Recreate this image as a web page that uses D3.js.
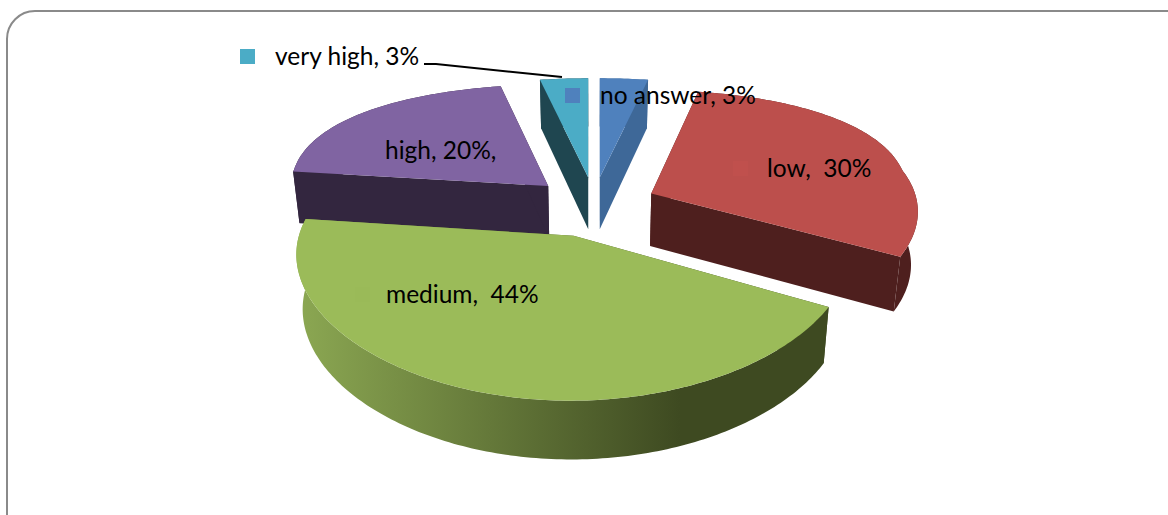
<!DOCTYPE html>
<html lang="en">
<head>
<meta charset="UTF-8">
<title>Pie chart</title>
<style>
  body { margin: 0; background: #fff; overflow: hidden; }
  text { font-family: Lato, sans-serif; font-size: 24.5px; fill: #000; white-space: pre; }
</style>
</head>
<body>
<div id="chart"></div>
<script src="https://d3js.org/d3.v7.min.js"></script>
<script>
  // chart data
  const categories = ["no answer", "low", "medium", "high", "very high"];
  const values = [3, 30, 44, 20, 3];
  const labels = ["no answer, 3%", "low,  30%", "medium,  44%", "high, 20%,", "very high, 3%"];

  // styles, same order as categories
  const topColors = ["#4f81bd", "#bc4f4c", "#9bbb59", "#8064a2", "#4bacc6"];
  const sideColors = ["#3e6898", "#4e1f1e", "url(#wall)", "#33263f", "#1f4650"];
  const markerColors = ["#4f81bd", "#c0504d", "#9aba58", "#8064a2", "#4bacc6"];
  const labelX = [600, 767, 386, 385, 275];
  const labelY = [104, 177, 303, 159, 65];
  const markerX = [572, 740, 362, 358, 247];

  const width = 1168, height = 515;
  const cx = 594, cy = 206;       // centre of the pie before the slices are pulled out
  const rx = 267, ry = 125;       // disc radii
  const perspX = 0.123, perspY = 0.172, perspZ = 0.08;
  const shrink = 0.0004;          // underside of the disc is a bit narrower
  const pull = 0.24;              // explosion, share of the radius
  const depth = 53;

  const svg = d3.select("#chart").append("svg")
    .attr("width", width).attr("height", height);

  // frame, runs off the page at right and bottom
  svg.append("rect")
    .attr("x", 7).attr("y", 11)
    .attr("width", 1200).attr("height", 600)
    .attr("rx", 28).attr("ry", 28)
    .attr("fill", "none").attr("stroke", "#8a8a8a").attr("stroke-width", 2);

  const grad = svg.append("defs").append("linearGradient")
    .attr("id", "wall").attr("gradientUnits", "userSpaceOnUse")
    .attr("x1", 300).attr("x2", 680).attr("y1", 0).attr("y2", 0);
  grad.append("stop").attr("offset", 0).attr("stop-color", "#8ba752");
  grad.append("stop").attr("offset", 1).attr("stop-color", "#3e4a21");

  // disc coordinates (u right, v to the back, z down) to screen
  function project(u, v, z) {
    const sx = (1 - shrink * z) / (1 + perspX * Math.min(v, 0.3));
    const sy = 1 / (1 + perspY * v);
    const sz = 1 / (1 + perspZ * v);
    return [cx + rx * u * sx, cy - ry * v * sy + z * sz];
  }

  const line = d3.line();
  const pie = d3.pie().sort(null)(values);

  function drawSlice(i) {
    const d = pie[i];
    const mid = (d.startAngle + d.endAngle) / 2;
    const ou = pull * Math.sin(mid), ov = pull * Math.cos(mid);
    const apex = z => project(ou, ov, z);
    const rim = (a, z) => project(ou + Math.sin(a), ov + Math.cos(a), z);
    const n = Math.ceil((d.endAngle - d.startAngle) * 60);
    const angles = d3.range(n + 1).map(j => d.startAngle + (d.endAngle - d.startAngle) * j / n);

    const g = svg.append("g").attr("class", "slice");
    const side = sideColors[i];
    // outer wall
    g.append("path")
      .attr("d", line(angles.map(a => rim(a, 0)).concat(angles.slice().reverse().map(a => rim(a, depth)))) + "Z")
      .attr("fill", side);
    // the two cut faces
    [d.startAngle, d.endAngle].forEach(a => {
      g.append("path")
        .attr("d", line([apex(0), rim(a, 0), rim(a, depth), apex(depth)]) + "Z")
        .attr("fill", side);
    });
    // top
    g.append("path")
      .attr("d", line([apex(0)].concat(angles.map(a => rim(a, 0)))) + "Z")
      .attr("fill", topColors[i]);
  }

  // back to front
  [3, 4, 0, 1, 2].forEach(drawSlice);

  // data labels with their little keys
  categories.forEach((c, i) => {
    svg.append("rect")
      .attr("x", markerX[i] - 7).attr("y", labelY[i] - 16)
      .attr("width", 15).attr("height", 15)
      .attr("fill", markerColors[i]);
    svg.append("text")
      .attr("x", labelX[i]).attr("y", labelY[i])
      .text(labels[i]);
  });

  // leader line for very high
  svg.append("path")
    .attr("d", line([[424, 64], [436, 64], [562, 77]]))
    .attr("fill", "none").attr("stroke", "#000").attr("stroke-width", 2);
</script>
</body>
</html>
